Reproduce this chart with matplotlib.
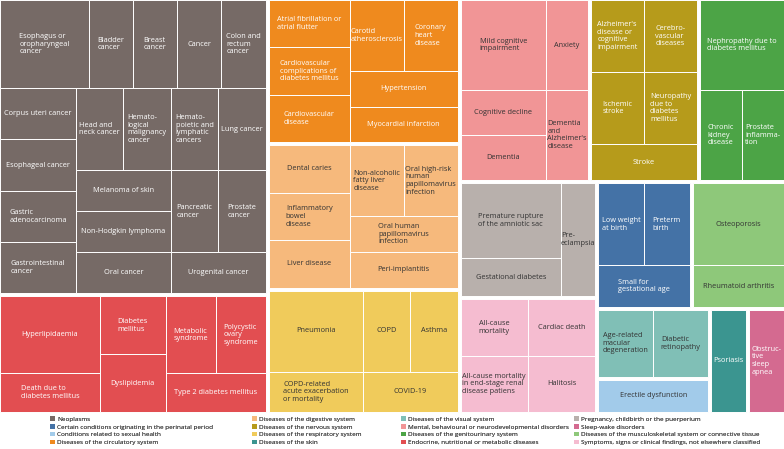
import matplotlib.pyplot as plt
from matplotlib.patches import Rectangle, Patch

plt.rcParams['font.family'] = ['Open Sans', 'DejaVu Sans']

# ---- data: number of studies per outcome, grouped by ICD chapter ----
neoplasm_labels = ["Esophagus or\noropharyngeal\ncancer", "Bladder\ncancer", "Breast\ncancer", "Cancer",
                   "Colon and\nrectum\ncancer", "Corpus uteri cancer", "Esophageal cancer",
                   "Gastric\nadenocarcinoma", "Gastrointestinal\ncancer", "Head and\nneck cancer",
                   "Hemato-\nlogical\nmalignancy\ncancer", "Hemato-\npoietic and\nlymphatic\ncancers",
                   "Lung cancer", "Melanoma of skin", "Non-Hodgkin lymphoma", "Oral cancer",
                   "Pancreatic\ncancer", "Prostate\ncancer", "Urogenital cancer"]
neoplasm_values = [2, 1, 1, 1, 1, 1, 1, 1, 1, 1, 1, 1, 1, 1, 1, 1, 1, 1, 1]

endocrine_labels = ["Hyperlipidaemia", "Death due to\ndiabetes mellitus", "Diabetes\nmellitus",
                    "Dyslipidemia", "Metabolic\nsyndrome", "Polycystic\novary\nsyndrome",
                    "Type 2 diabetes mellitus"]
endocrine_values = [2, 1, 1, 1, 1, 1, 1]

circulatory_labels = ["Atrial fibrillation or\natrial flutter",
                      "Cardiovascular\ncomplications of\ndiabetes mellitus", "Cardiovascular\ndisease",
                      "Carotid\natherosclerosis", "Coronary\nheart\ndisease", "Hypertension",
                      "Myocardial infarction"]
circulatory_values = [1, 1, 1, 1, 1, 1, 1]

digestive_labels = ["Dental caries", "Inflammatory\nbowel\ndisease", "Liver disease",
                    "Non-alcoholic\nfatty liver\ndisease", "Oral high-risk\nhuman\npapillomavirus\ninfection",
                    "Oral human\npapillomavirus\ninfection", "Peri-implantitis"]
digestive_values = [1, 1, 1, 1, 1, 1, 1]

respiratory_labels = ["Pneumonia", "COPD-related\nacute exacerbation\nor mortality", "COPD", "Asthma",
                      "COVID-19"]
respiratory_values = [2, 1, 1, 1, 1]

mental_labels = ["Mild cognitive\nimpairment", "Anxiety", "Cognitive decline", "Dementia",
                 "Dementia\nand\nAlzheimer's\ndisease"]
mental_values = [2, 1, 1, 1, 1]

nervous_labels = ["Alzheimer's\ndisease or\ncognitive\nimpairment", "Cerebro-\nvascular\ndiseases",
                  "Ischemic\nstroke", "Neuropathy\ndue to\ndiabetes\nmellitus", "Stroke"]
nervous_values = [1, 1, 1, 1, 1]

genito_labels = ["Nephropathy due to\ndiabetes mellitus", "Chronic\nkidney\ndisease", "Prostate\ninflamma-\ntion"]
genito_values = [2, 1, 1]

pregnancy_labels = ["Premature rupture\nof the amniotic sac", "Gestational diabetes", "Pre-\neclampsia"]
pregnancy_values = [2, 1, 1]

symptoms_labels = ["All-cause\nmortality", "All-cause mortality\nin end-stage renal\ndisease patiens",
                   "Cardiac death", "Halitosis"]
symptoms_values = [1, 1, 1, 1]

perinatal_labels = ["Low weight\nat birth", "Preterm\nbirth", "Small for\ngestational age"]
perinatal_values = [1, 1, 1]

musculo_labels = ["Osteoporosis", "Rheumatoid arthritis"]
musculo_values = [2, 1]

visual_labels = ["Age-related\nmacular\ndegeneration", "Diabetic\nretinopathy"]
visual_values = [1, 1]

sexual_labels = ["Erectile dysfunction"]
sexual_values = [1]

skin_labels = ["Psoriasis"]
skin_values = [1]

sleep_labels = ["Obstruc-\ntive\nsleep\napnea"]
sleep_values = [1]

tree = [
    ("Neoplasms", neoplasm_labels, neoplasm_values),
    ("Endocrine, nutritional or metabolic diseases", endocrine_labels, endocrine_values),
    ("Diseases of the circulatory system", circulatory_labels, circulatory_values),
    ("Diseases of the digestive system", digestive_labels, digestive_values),
    ("Diseases of the respiratory system", respiratory_labels, respiratory_values),
    ("Mental, behavioural or neurodevelopmental disorders", mental_labels, mental_values),
    ("Diseases of the nervous system", nervous_labels, nervous_values),
    ("Diseases of the genitourinary system", genito_labels, genito_values),
    ("Pregnancy, childbirth or the puerperium", pregnancy_labels, pregnancy_values),
    ("Symptoms, signs or clinical findings, not elsewhere classified", symptoms_labels, symptoms_values),
    ("Certain conditions originating in the perinatal period", perinatal_labels, perinatal_values),
    ("Diseases of the musculoskeletal system or connective tissue", musculo_labels, musculo_values),
    ("Diseases of the visual system", visual_labels, visual_values),
    ("Conditions related to sexual health", sexual_labels, sexual_values),
    ("Diseases of the skin", skin_labels, skin_values),
    ("Sleep-wake disorders", sleep_labels, sleep_values),
]

legend_order = ["Neoplasms", "Certain conditions originating in the perinatal period",
                "Conditions related to sexual health", "Diseases of the circulatory system",
                "Diseases of the digestive system", "Diseases of the nervous system",
                "Diseases of the respiratory system", "Diseases of the skin",
                "Diseases of the visual system", "Mental, behavioural or neurodevelopmental disorders",
                "Diseases of the genitourinary system", "Endocrine, nutritional or metabolic diseases",
                "Pregnancy, childbirth or the puerperium", "Sleep-wake disorders",
                "Diseases of the musculoskeletal system or connective tissue",
                "Symptoms, signs or clinical findings, not elsewhere classified"]

colors = {
    "Neoplasms": "#766a66",
    "Endocrine, nutritional or metabolic diseases": "#e24e51",
    "Diseases of the circulatory system": "#ef8a1e",
    "Diseases of the digestive system": "#f6b97c",
    "Diseases of the respiratory system": "#f0cb5b",
    "Mental, behavioural or neurodevelopmental disorders": "#f19596",
    "Diseases of the nervous system": "#b69b1b",
    "Diseases of the genitourinary system": "#4ca446",
    "Pregnancy, childbirth or the puerperium": "#b8b0ac",
    "Symptoms, signs or clinical findings, not elsewhere classified": "#f5bcd0",
    "Certain conditions originating in the perinatal period": "#4472a6",
    "Diseases of the musculoskeletal system or connective tissue": "#8ec87a",
    "Diseases of the visual system": "#80bfb6",
    "Conditions related to sexual health": "#a2cbea",
    "Diseases of the skin": "#3b9590",
    "Sleep-wake disorders": "#d46a90",
}
dark_text = {"Diseases of the digestive system", "Diseases of the respiratory system",
             "Mental, behavioural or neurodevelopmental disorders",
             "Pregnancy, childbirth or the puerperium",
             "Symptoms, signs or clinical findings, not elsewhere classified",
             "Diseases of the musculoskeletal system or connective tissue",
             "Diseases of the visual system", "Conditions related to sexual health"}

PHI = (1 + 5 ** 0.5) / 2


def squarify(values, x0, y0, x1, y1, ratio=PHI):
    # golden-ratio squarified layout (same idea as d3.treemapSquarify)
    order = sorted(range(len(values)), key=lambda i: -values[i])
    vals = [values[i] for i in order]
    out = [None] * len(values)
    total = float(sum(vals))
    i0, n = 0, len(vals)
    while i0 < n:
        dx, dy = x1 - x0, y1 - y0
        s = vals[i0]
        mn = mx = s
        alpha = max(dy / dx, dx / dy) / (total * ratio)
        beta = s * s * alpha
        best = max(mx / beta, beta / mn)
        i1 = i0 + 1
        while i1 < n:
            v = vals[i1]
            s2 = s + v
            beta = s2 * s2 * alpha
            r = max(max(mx, v) / beta, beta / min(mn, v))
            if r > best:
                break
            s, mn, mx, best = s2, min(mn, v), max(mx, v), r
            i1 += 1
        if dx < dy:
            h = dy * s / total
            xx = x0
            for k in range(i0, i1):
                w = dx * vals[k] / s
                out[order[k]] = (xx, y0, w, h)
                xx += w
            y0 += h
        else:
            w = dx * s / total
            yy = y0
            for k in range(i0, i1):
                h = dy * vals[k] / s
                out[order[k]] = (x0, yy, w, h)
                yy += h
            x0 += w
        total -= s
        i0 = i1
    return out


fig = plt.figure(figsize=(7.84, 4.49), dpi=100)
ax = fig.add_axes([0, 0, 1, 1])
ax.set_xlim(0, 784)
ax.set_ylim(449, 0)
ax.axis('off')

pad = 1.5
totals = [sum(v) for _, _, v in tree]
group_rects = squarify(totals, -pad, -pad, 784 + pad, 412 + pad)

for (name, labels, values), (gx, gy, gw, gh) in zip(tree, group_rects):
    col = colors[name]
    tcol = '#333333' if name in dark_text else 'white'
    cells = squarify(values, gx + pad, gy + pad, gx + gw - pad, gy + gh - pad)
    for lab, (x, y, w, h) in zip(labels, cells):
        ax.add_patch(Rectangle((x, y), w, h, facecolor=col, edgecolor='white', linewidth=0.7))
        ax.text(x + w / 2, y + h / 2, lab, ha='center', va='center', multialignment='left',
                fontsize=5.3, color=tcol, linespacing=1.15, clip_on=True)

# legend in four columns
handles = [Patch(facecolor=colors[n], edgecolor='none', label=n) for n in legend_order]
col_x = [50, 252, 401, 574]
for c in range(4):
    leg = fig.legend(handles=handles[c * 4:(c + 1) * 4], loc='upper left',
                     bbox_to_anchor=(col_x[c] / 784, 1 - 416.5 / 449), frameon=False,
                     fontsize=4.55, handlelength=0.72, handleheight=0.72, handletextpad=0.45,
                     labelspacing=0.36, borderpad=0, borderaxespad=0, labelcolor='#444444')
    fig.add_artist(leg)

fig.savefig('out.png', dpi=100)
